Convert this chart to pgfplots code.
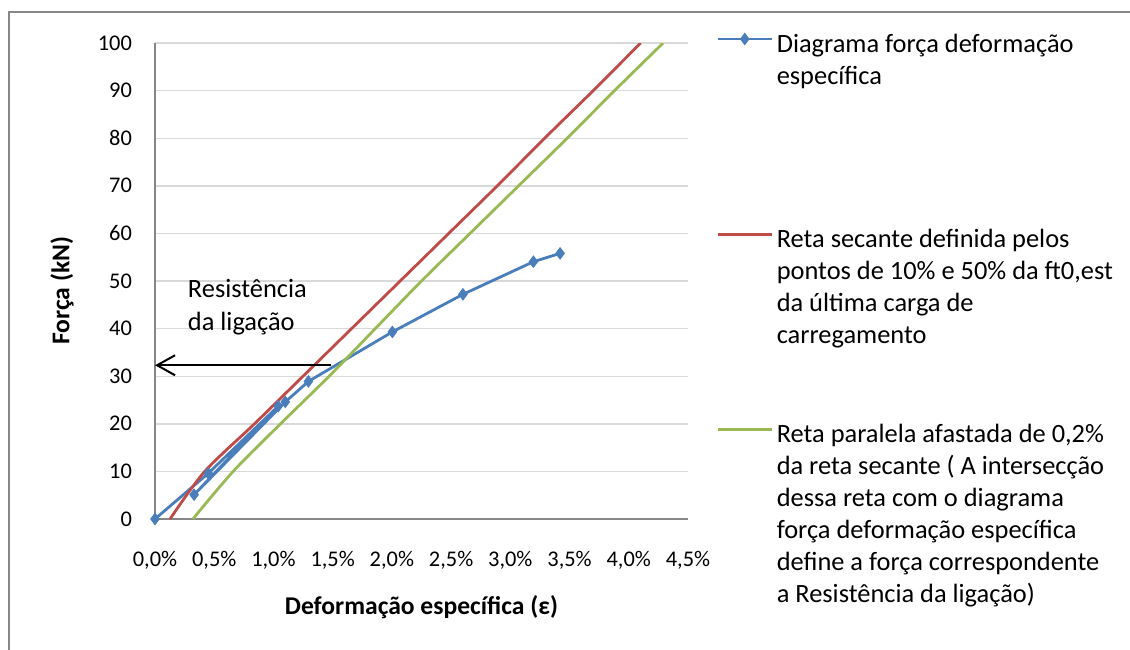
\documentclass[border=0pt]{standalone}
\usepackage{pgfplots}
\pgfplotsset{compat=1.18}
\usepackage{fontspec}
\setmainfont{Carlito}
\usetikzlibrary{arrows.meta}
\definecolor{xlblue}{RGB}{74,126,187}
\definecolor{xlred}{RGB}{190,75,72}
\definecolor{xlgreen}{RGB}{152,185,84}
\definecolor{axgray}{RGB}{134,134,134}
\definecolor{gridgray}{RGB}{217,217,217}
\newcommand{\legfont}{\fontsize{13.2}{16}\selectfont}
\newcommand{\tickfont}{\fontsize{11.2}{13.5}\selectfont}
\begin{document}
\begin{tikzpicture}
\begin{axis}[
  scale only axis,
  width=266.5pt, height=238pt,
  xmin=0, xmax=4.5, ymin=0, ymax=100,
  axis x line*=bottom, axis y line*=left,
  axis line style={axgray, line width=1pt, -},
  xtick={0,0.5,1,1.5,2,2.5,3,3.5,4,4.5},
  xticklabels={{0,0\%},{0,5\%},{1,0\%},{1,5\%},{2,0\%},{2,5\%},{3,0\%},{3,5\%},{4,0\%},{4,5\%}},
  ytick={0,10,...,100},
  major tick length=0pt,
  ymajorgrids,
  major grid style={gridgray, line width=0.7pt},
  /pgf/number format/assume math mode=true,
  tick label style={font=\tickfont},
  xticklabel style={anchor=center, yshift=-20.5pt},
  yticklabel style={anchor=east, xshift=-8pt},
  xlabel={\bfseries Deformação específica (ε)},
  ylabel={\bfseries Força (kN)},
  label style={font=\fontsize{12.8}{15}\selectfont},
  xlabel style={at={(axis description cs:0.5,-0.185)}, anchor=center},
  ylabel style={at={(axis description cs:-0.1745,0.48)}, anchor=center, rotate=0},
  legend style={at={(rel axis cs:1.0525,1.021)}, anchor=north west, draw=none, fill=none,
    font=\legfont, row sep=87pt, inner sep=0pt, nodes={inner sep=0pt},
    cells={anchor=base west}},
  legend cell align=left,
  legend image code/.code={\draw[#1, mark repeat=2, mark phase=2] plot coordinates {(0pt,0.28em) (13.5pt,0.28em) (27pt,0.28em)};\path[draw=none, fill=none] (0pt,0.28em) -- (29.5pt,0.28em);},
]
\addplot[xlblue, line width=1.4pt, mark=diamond*, mark size=2.8pt, mark options={fill=xlblue, draw=xlblue, line width=0.5pt}] coordinates {
  (0,0) (0.45,9.6) (1.04,23.7) (0.33,5.1) (1.10,24.6) (1.295,28.9) (2.004,39.3) (2.60,47.2) (3.195,54.05) (3.42,55.8)
};
\addlegendentry{\parbox[t]{175pt}{\raggedright Diagrama força deformação\\específica}}
\addplot[xlred, line width=1.4pt, smooth, tension=0.5] coordinates {
  (0.127,0) (0.42,10) (0.84,20) (1.25,30) (1.66,40) (2.07,50) (2.48,60) (2.89,70) (3.29,80) (3.70,90) (4.10,100)
};
\addlegendentry{\parbox[t]{175pt}{\raggedright Reta secante definida pelos\\pontos de 10\% e 50\% da ft0,est\\da última carga de\\carregamento}}
\addplot[xlgreen, line width=1.4pt, smooth, tension=0.5] coordinates {
  (0.32,0) (0.66,10) (1.06,20) (1.47,30) (1.86,40) (2.25,50) (2.66,60) (3.07,70) (3.48,80) (3.88,90) (4.29,100)
};
\addlegendentry{\parbox[t]{175pt}{\raggedright Reta paralela afastada de 0,2\%\\da reta secante ( A intersecção\\dessa reta com o diagrama\\força deformação específica\\define a força correspondente\\a Resistência da ligação)}}
\draw[black, line width=1pt, -{Straight Barb[length=9pt, width=10pt]}] (axis cs:1.49,32.3) -- (axis cs:0,32.3);
\node[anchor=north west, align=left, inner sep=0pt, font=\fontsize{13.2}{16.5}\selectfont] at (axis cs:0.275,50.4) {Resistência\\da ligação};
\end{axis}
\draw[axgray, line width=1pt] (-73pt,-70pt) -- (-73pt,253.5pt) -- (492pt,253.5pt);
\pgfresetboundingbox
\useasboundingbox (-77.5pt,-65pt) rectangle (487.5pt,259.5pt);
\end{tikzpicture}
\end{document}
